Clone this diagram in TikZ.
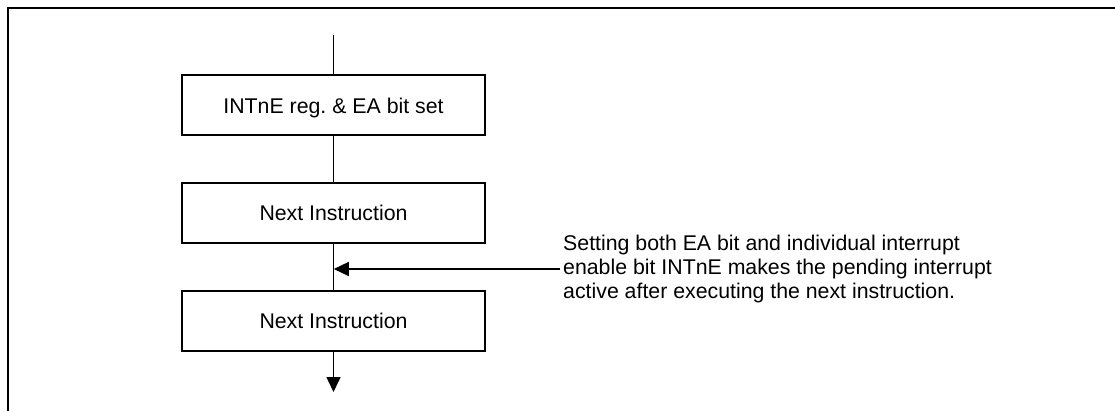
\documentclass[tikz,border=0pt]{standalone}
\usepackage{fontspec}
\setmainfont{Liberation Sans}
\usetikzlibrary{arrows.meta}
\frenchspacing
\begin{document}
\begin{tikzpicture}[x=1pt,y=-1pt,
  every node/.style={font=\fontsize{21.3}{24.4}\selectfont},
  stepbox/.style={draw,line width=2pt,minimum width=303pt,minimum height=60pt,
    text height=15.3pt,text depth=0pt,inner sep=0pt},
  conn/.style={line width=1.5pt},
  arr/.style={conn,-{Triangle[length=15pt,width=14pt]}}]
\useasboundingbox (0,0) rectangle (1115,411);
% frame (only top and left edges visible)
\draw[line width=2pt] (8.3,420) -- (8.3,8.3) -- (1125,8.3);
% boxes
\node[stepbox] (b1) at (333.5,105.5) {INTnE reg.\ \& EA bit set};
\node[stepbox] (b2) at (333.5,212.7) {Next Instruction};
\node[stepbox] (b3) at (333.5,321) {Next Instruction};
\coordinate (top) at (333.5,35);
\coordinate (bot) at (333.5,392);
\coordinate (j) at (333.8,269);
% connectors
\draw[conn] (top) -- (b1.north);
\draw[conn] (b1.south) -- (b2.north);
\draw[conn] (b2.south) -- (b3.north);
\draw[arr] (b3.south) -- (bot);
% annotation
\node[anchor=west,align=left,inner sep=0pt] (note) at (563,269)
  {Setting both EA bit and individual interrupt\\
   enable bit INTnE makes the pending interrupt\\
   active after executing the next instruction.};
\draw[arr] ([xshift=-3pt]note.west) -- (j);
\end{tikzpicture}
\end{document}
